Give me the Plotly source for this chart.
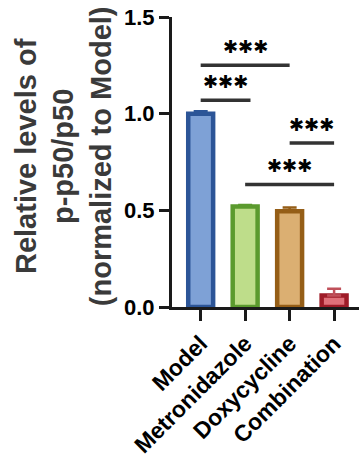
import plotly.graph_objects as go

categories = ["Model", "Metronidazole", "Doxycycline", "Combination"]
values = [1.0, 0.52, 0.495, 0.06]
errors = [0.012, 0.008, 0.02, 0.035]
fill_colors = ["#7EA1D6", "#BEDD8A", "#DBAF72", "#E0717A"]
line_colors = ["#2C5597", "#5B9A2E", "#955E17", "#9E1C28"]
err_colors = ["#2C5597", "#5B9A2E", "#955E17", "#C0505A"]
y_ticks = [0.0, 0.5, 1.0, 1.5]
y_ticklabels = ["0.0", "0.5", "1.0", "1.5"]
# significance comparisons: (start index, end index, height, label)
sig_start = [0, 0, 2, 1]
sig_end = [2, 1.12, 3, 3]
sig_height = [1.25, 1.07, 0.848, 0.634]
sig_label = ["\u2731\u2731\u2731"] * 4

FONT = "Liberation Sans, Arial, sans-serif"

fig = go.Figure()
for i, c in enumerate(categories):
    fig.add_trace(go.Bar(
        x=[i], y=[values[i]], width=0.56,
        marker=dict(color=fill_colors[i], line=dict(color=line_colors[i], width=4.5)),
        error_y=dict(type="data", array=[errors[i]], arrayminus=[0], symmetric=False,
                     color=err_colors[i], thickness=2.5, width=7),
        showlegend=False,
    ))

shapes = []
annotations = []
for s, e, h, lab in zip(sig_start, sig_end, sig_height, sig_label):
    shapes.append(dict(type="line", xref="x", yref="y", x0=s, x1=e, y0=h, y1=h,
                       line=dict(color="#333333", width=3.5)))
    annotations.append(dict(xref="x", yref="y", x=(s + e) / 2, y=h, text=lab,
                            showarrow=False, yanchor="bottom", yshift=6,
                            font=dict(family="DejaVu Sans", size=18, color="#000000")))

annotations.append(dict(
    xref="paper", yref="paper", x=-0.583, y=0.52, xanchor="center", yanchor="middle",
    text="Relative levels of<br>p-p50/p50<br>(normalized to Model)", textangle=-90,
    showarrow=False, font=dict(family=FONT, size=29, color="#3a3a3a", weight="bold")))

fig.update_layout(
    width=359, height=459,
    margin=dict(l=172, r=0, t=17, b=152),
    plot_bgcolor="white", paper_bgcolor="white",
    shapes=shapes, annotations=annotations,
)
fig.update_xaxes(
    range=[-0.645, 3.56], tickmode="array", tickvals=list(range(len(categories))),
    ticktext=categories, tickangle=-45, ticks="outside", ticklen=11, tickwidth=3,
    tickcolor="#1a1a1a", showline=True, linecolor="#1a1a1a", linewidth=3,
    showgrid=False, zeroline=False,
    tickfont=dict(family=FONT, size=23, color="#000000", weight="bold"),
)
fig.update_yaxes(
    range=[0, 1.5], tickmode="array", tickvals=y_ticks, ticktext=y_ticklabels,
    ticks="outside", ticklen=10, tickwidth=3, tickcolor="#1a1a1a",
    showline=True, linecolor="#1a1a1a", linewidth=3, showgrid=False, zeroline=False,
    tickfont=dict(family=FONT, size=22, color="#000000", weight="bold"),
)

fig.write_html("out.html")
